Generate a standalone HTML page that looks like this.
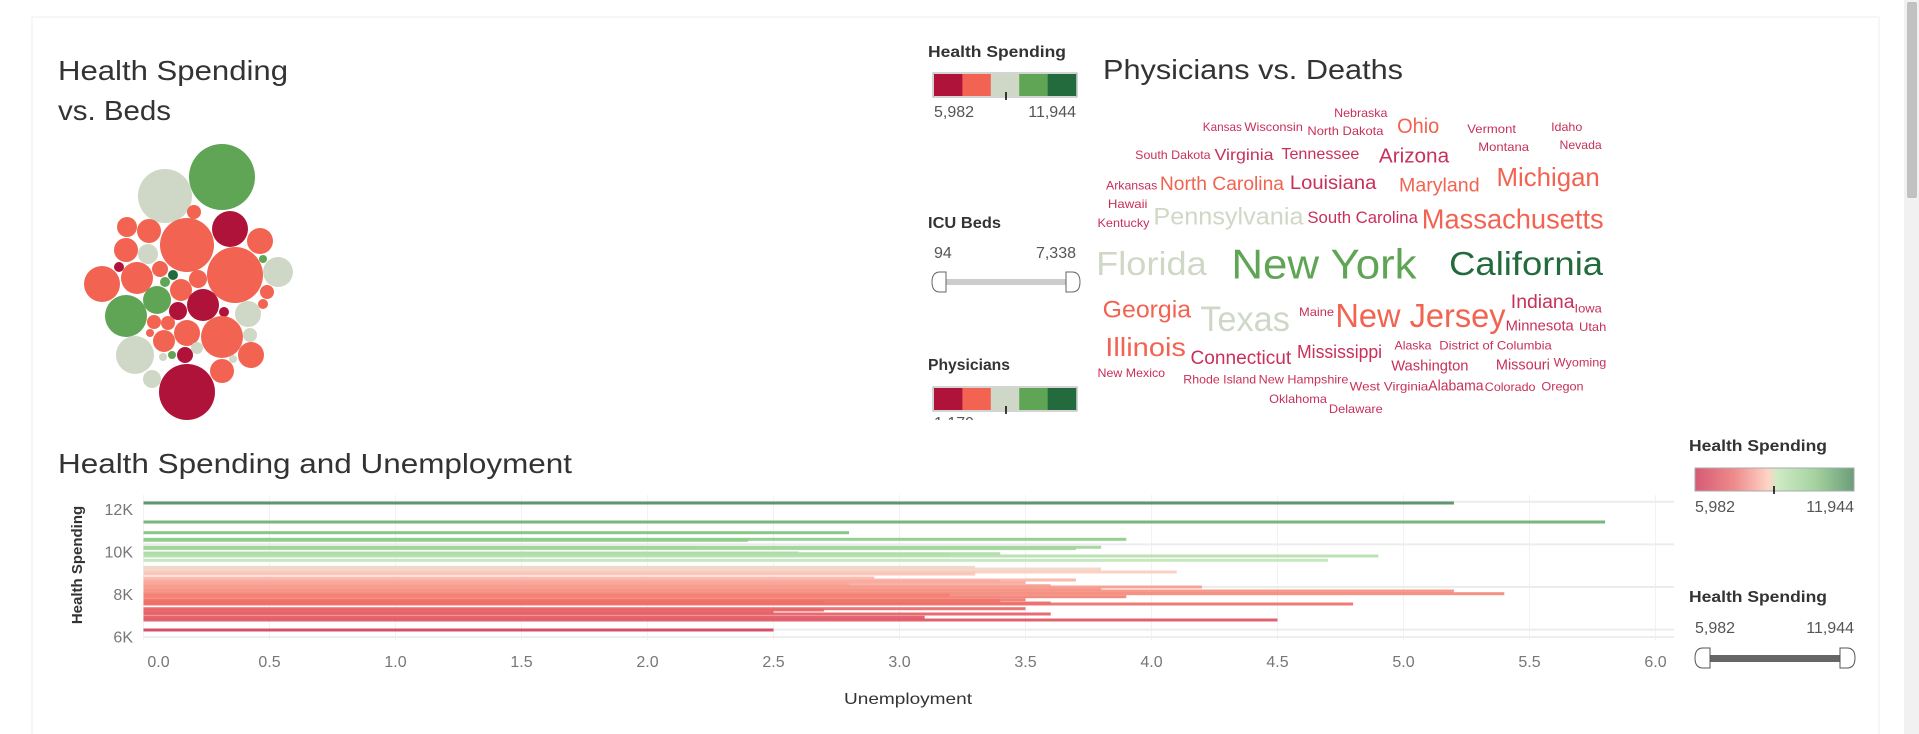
<!DOCTYPE html>
<html><head><meta charset="utf-8">
<style>
html,body{margin:0;padding:0;background:#fff;width:1919px;height:734px;overflow:hidden;}
svg{display:block;font-family:"Liberation Sans","DejaVu Sans",sans-serif;}
</style></head>
<body>
<svg id="root" width="1919" height="734" viewBox="0 0 1919 734" xmlns="http://www.w3.org/2000/svg">
<defs>
<linearGradient id="hsGrad" x1="0" x2="1" y1="0" y2="0">
<stop offset="0" stop-color="#d65a74"/><stop offset="0.25" stop-color="#ee8c8c"/><stop offset="0.46" stop-color="#ffd3c6"/><stop offset="0.52" stop-color="#cdebc6"/><stop offset="0.75" stop-color="#a6d3a0"/><stop offset="1" stop-color="#6a9e7a"/>
</linearGradient>
<clipPath id="topClip"><rect x="0" y="0" width="1900" height="420"/></clipPath>
</defs>
<rect x="32" y="17" width="1847" height="740" fill="#fff" stroke="#ececec"/>
<rect x="1904" y="0" width="15" height="734" fill="#f1f1f1"/>
<rect x="1907" y="2" width="10" height="196" rx="2" fill="#c1c1c1"/>

<g>
<text x="58" y="80" font-size="28" fill="#333" textLength="230" lengthAdjust="spacingAndGlyphs">Health Spending</text>
<text x="58" y="120" font-size="28" fill="#333" textLength="113" lengthAdjust="spacingAndGlyphs">vs. Beds</text>
<g id="bubbles"></g>
</g>

<g clip-path="url(#topClip)">
<text x="928" y="57" font-size="16" fill="#333" font-weight="bold" textLength="138" lengthAdjust="spacingAndGlyphs">Health Spending</text>
<g id="legend1"></g>
<text x="934" y="117" font-size="16" fill="#555">5,982</text>
<text x="1076" y="117" font-size="16" fill="#555" text-anchor="end">11,944</text>
<text x="928" y="228" font-size="16" fill="#333" font-weight="bold" textLength="73" lengthAdjust="spacingAndGlyphs">ICU Beds</text>
<text x="934" y="258" font-size="16" fill="#555">94</text>
<text x="1076" y="258" font-size="16" fill="#555" text-anchor="end">7,338</text>
<rect x="940" y="279" width="130" height="6" fill="#cccccc"/>
<path d="M946,272 L940,272 Q932,272 932,282 Q932,292 940,292 L946,292 Z" fill="#fff" stroke="#666"/>
<path d="M1066,272 L1072,272 Q1080,272 1080,282 Q1080,292 1072,292 L1066,292 Z" fill="#fff" stroke="#666"/>
<text x="928" y="370" font-size="16" fill="#333" font-weight="bold" textLength="82" lengthAdjust="spacingAndGlyphs">Physicians</text>
<g id="legend2"></g>
<text x="934" y="428" font-size="16" fill="#555">1,179</text>
</g>

<g>
<text x="1103" y="79" font-size="28" fill="#333" textLength="300" lengthAdjust="spacingAndGlyphs">Physicians vs. Deaths</text>
<g id="words"></g>
</g>

<g>
<text x="58" y="473" font-size="28" fill="#333" textLength="514" lengthAdjust="spacingAndGlyphs">Health Spending and Unemployment</text>
<g id="grid"></g>
<g id="bars"></g>
<g id="axes"></g>
<text transform="translate(82,565) rotate(-90)" font-size="15" fill="#333" font-weight="bold" text-anchor="middle">Health Spending</text>
<text x="908" y="704" font-size="16" fill="#333" text-anchor="middle" textLength="128" lengthAdjust="spacingAndGlyphs">Unemployment</text>
</g>

<g>
<text x="1689" y="451" font-size="16" fill="#333" font-weight="bold" textLength="138" lengthAdjust="spacingAndGlyphs">Health Spending</text>
<rect x="1695" y="468" width="159" height="23" fill="url(#hsGrad)" stroke="#aaa"/>
<line x1="1774" y1="486" x2="1774" y2="494" stroke="#000" stroke-width="1.5"/>
<text x="1695" y="512" font-size="16" fill="#555">5,982</text>
<text x="1854" y="512" font-size="16" fill="#555" text-anchor="end">11,944</text>
<text x="1689" y="602" font-size="16" fill="#333" font-weight="bold" textLength="138" lengthAdjust="spacingAndGlyphs">Health Spending</text>
<text x="1695" y="633" font-size="16" fill="#555">5,982</text>
<text x="1854" y="633" font-size="16" fill="#555" text-anchor="end">11,944</text>
<rect x="1703" y="655" width="142" height="7" fill="#666"/>
<path d="M1710,648 L1703,648 Q1695,648 1695,658 Q1695,668 1703,668 L1710,668 Z" fill="#fff" stroke="#555"/>
<path d="M1840,648 L1847,648 Q1855,648 1855,658 Q1855,668 1847,668 L1840,668 Z" fill="#fff" stroke="#555"/>
</g>
</svg>
<script>
const NS="http://www.w3.org/2000/svg";
const PAL=["#b0133a","#f26352","#cfd8c6","#5fa555","#236b3d"];
// bubble chart
const bubbleX=[222,165,194,230,187,127,149,260,126,148,263,278,235,102,137,119,160,173,165,198,181,267,126,157,203,178,224,263,248,154,168,187,222,164,250,150,135,185,172,163,197,251,222,233,152,187];
const bubbleY=[177,196,212,229,245,227,231,241,250,254,259,272,275,284,278,267,269,275,282,279,290,292,316,300,305,311,312,304,314,322,323,333,337,341,335,333,355,355,355,357,348,355,371,359,379,392];
const bubbleR=[33,27,7,18,27,10,12,13,12,10,4,15,28,18,16,5,8,5,5,9,11,7,21,14,16,9,5,5,13,7,7,13,21,11,7,4,19,8,4,4,6,13,12,4,9,28];
const bubbleC=[3,2,1,0,1,1,1,1,1,2,3,2,1,1,1,0,1,4,3,1,1,1,3,3,0,0,0,1,2,1,1,1,1,1,2,1,2,0,3,2,2,1,1,2,2,0];
const bg=document.getElementById('bubbles');
for(let i=0;i<bubbleX.length;i++){
 const c=document.createElementNS(NS,'circle');
 c.setAttribute('cx',bubbleX[i]);c.setAttribute('cy',bubbleY[i]);c.setAttribute('r',bubbleR[i]);c.setAttribute('fill',PAL[bubbleC[i]]);
 
 
 bg.appendChild(c);
}
// legends
function legend(id,y){
 const g=document.getElementById(id);
 for(let i=0;i<5;i++){const r=document.createElementNS(NS,'rect');
  r.setAttribute('x',934+i*28.4);r.setAttribute('y',y);r.setAttribute('width',28.6);r.setAttribute('height',22);r.setAttribute('fill',PAL[i]);
  
  
  g.appendChild(r);}
 const b=document.createElementNS(NS,'rect');b.setAttribute('x',933);b.setAttribute('y',y-1);b.setAttribute('width',144);b.setAttribute('height',24);b.setAttribute('fill','none');b.setAttribute('stroke','#aaa');
 
 
 g.appendChild(b);
 const t=document.createElementNS(NS,'line');t.setAttribute('x1',1006);t.setAttribute('x2',1006);t.setAttribute('y1',y+18);t.setAttribute('y2',y+26);t.setAttribute('stroke','#000');t.setAttribute('stroke-width',1.5);
 
 
 g.appendChild(t);
}
legend('legend1',74);legend('legend2',388);
// word cloud: [word, leftZ, rightZ, centerZy, fontsize, colorIdx]
const words=["Nebraska","Kansas","Wisconsin","North Dakota","Ohio","Vermont","Idaho","Montana","Nevada","South Dakota","Virginia","Tennessee","Arizona","Arkansas","North Carolina","Louisiana","Maryland","Michigan","Hawaii","Kentucky","Pennsylvania","South Carolina","Massachusetts","Florida","New York","California","Georgia","Texas","Maine","New Jersey","Indiana","Iowa","Minnesota","Utah","Illinois","Connecticut","Mississippi","Alaska","District of Columbia","Washington","Missouri","Wyoming","New Mexico","Rhode Island","New Hampshire","West Virginia","Alabama","Colorado","Oregon","Oklahoma","Delaware"];
const wL=[668,466,530,627,765,873,1002,890,1015,362,484,587,737,317,400,600,768,918,320,304,390,627,803,302,510,845,312,462,614,670,940,1038,932,1045,316,447,611,761,830,756,917,1006,304,436,552,692,813,900,987,568,660];
const wR=[750,526,620,744,830,948,1050,968,1080,478,575,707,845,396,591,733,892,1077,381,384,621,797,1083,472,795,1082,448,600,668,932,1038,1080,1037,1087,440,602,742,818,1003,875,1000,1087,408,548,690,813,898,978,1052,657,743];
const wY=[338,380,380,392,377,386,380,440,434,464,462,460,466,556,550,546,554,530,611,668,647,650,655,790,790,790,927,955,935,945,903,925,975,980,1040,1072,1054,1035,1035,1095,1092,1087,1118,1138,1138,1158,1155,1160,1158,1196,1226];
const wS=[12,12,12,12,21,12,12,12,12,12,16,16,20,12,19,19,19,26,12,12,24,17,28,33,42,33,24,35,12,33,19,12,15,12,26,19,18,12,12,15,15,12,12,12,12,12,15,12,12,12,12];
const wC=[0,0,0,0,1,0,0,0,0,0,0,0,0,0,1,0,1,1,0,0,2,0,1,2,3,4,1,2,0,1,0,0,0,0,1,0,0,0,0,0,0,0,0,0,0,0,0,0,0,0,0];
const wCol=["#c8305a","#f26352","#cfd8c6","#5fa555","#236b3d"];
const wg=document.getElementById('words');
for(let i=0;i<words.length;i++){
 const t=document.createElementNS(NS,'text');
 const x=900+wL[i]*0.6498, w=(wR[i]-wL[i])*0.6498, cy=wY[i]/3;
 t.setAttribute('x',x.toFixed(1));t.setAttribute('y',(cy+wS[i]*0.36).toFixed(1));
 t.setAttribute('font-size',wS[i]);t.setAttribute('fill',wCol[wC[i]]);
 t.setAttribute('textLength',w.toFixed(1));t.setAttribute('lengthAdjust','spacingAndGlyphs');
 t.textContent=words[i];
 
 
 wg.appendChild(t);
}
// bar chart data
const spending=[11944,11053,10552,10239,10192,9863,9848,9801,9597,9566,9519,9456,9253,8924,8846,8705,8658,8611,8423,8330,8267,8204,8142,8064,8001,7891,7813,7688,7625,7547,7406,7359,7281,7250,7203,6984,6921,6811,6733,6577,6452,5982];
const unemployment=[5.2,5.8,2.8,3.9,2.4,3.8,2.2,3.7,2.6,3.4,3.2,4.9,4.7,3.3,3.8,4.1,3.3,3.3,2.9,3.7,3.4,3.5,2.8,3.6,4.2,3.8,5.2,5.4,3.2,3.9,3.5,3.4,2.7,3.6,4.8,3.5,2.7,2.5,3.6,3.1,4.5,2.5];
const yTicks=[6000,8000,10000,12000];
const yTickLabels=["6K","8K","10K","12K"];
const xTicks=[0,0.5,1,1.5,2,2.5,3,3.5,4,4.5,5,5.5,6];
const xTickLabels=["0.0","0.5","1.0","1.5","2.0","2.5","3.0","3.5","4.0","4.5","5.0","5.5","6.0"];
const xs=v=>143.5+v*252;
const ys=v=>630-(v-5982)/5962*127;
function colorFor(v){
 const t=(v-5982)/(11944-5982);
 const st=[[0,[214,61,90]],[0.25,[242,120,106]],[0.47,[253,208,196]],[0.52,[200,232,192]],[0.75,[127,197,122]],[1,[79,138,95]]];
 for(let i=1;i<st.length;i++){if(t<=st[i][0]){const a=st[i-1],b=st[i],f=(t-a[0])/(b[0]-a[0]);
  return 'rgb('+a[1].map((c,k)=>Math.round(c+(b[1][k]-c)*f)).join(',')+')';}}
 return 'rgb(79,138,95)';
}
const gg=document.getElementById('grid');
xTicks.forEach(v=>{const l=document.createElementNS(NS,'line');l.setAttribute('x1',xs(v));l.setAttribute('x2',xs(v));l.setAttribute('y1',495);l.setAttribute('y2',640);l.setAttribute('stroke','#f2f2f2');
 
 
 gg.appendChild(l);});
yTicks.forEach(v=>{const l=document.createElementNS(NS,'line');l.setAttribute('x1',144);l.setAttribute('x2',1674);l.setAttribute('y1',ys(v));l.setAttribute('y2',ys(v));l.setAttribute('stroke','#ececec');l.setAttribute('stroke-width',2);
 
 
 gg.appendChild(l);});
const bl=document.createElementNS(NS,'line');bl.setAttribute('x1',144);bl.setAttribute('x2',1674);bl.setAttribute('y1',637);bl.setAttribute('y2',637);bl.setAttribute('stroke','#eee');bl.setAttribute('stroke-width',2);


gg.appendChild(bl);
const bgp=document.getElementById('bars');
for(let i=0;i<spending.length;i++){
 const r=document.createElementNS(NS,'rect');
 r.setAttribute('x',xs(0));r.setAttribute('y',(ys(spending[i])-1.5).toFixed(1));
 r.setAttribute('width',(xs(unemployment[i])-xs(0)).toFixed(1));r.setAttribute('height',3);
 r.setAttribute('fill',colorFor(spending[i]));r.setAttribute('opacity',0.9);
 
 
 bgp.appendChild(r);
}
const ag=document.getElementById('axes');
yTicks.forEach((v,i)=>{const t=document.createElementNS(NS,'text');t.setAttribute('x',133);t.setAttribute('y',ys(v)+13);t.setAttribute('text-anchor','end');t.setAttribute('font-size',16);t.setAttribute('fill','#777');t.textContent=yTickLabels[i];
 
 
 ag.appendChild(t);});
xTicks.forEach((v,i)=>{const t=document.createElementNS(NS,'text');t.setAttribute('x',i===0?xs(v)+15:xs(v));t.setAttribute('y',667);t.setAttribute('text-anchor','middle');t.setAttribute('font-size',16);t.setAttribute('fill','#777');t.textContent=xTickLabels[i];
 
 
 ag.appendChild(t);});
</script>
</body></html>
